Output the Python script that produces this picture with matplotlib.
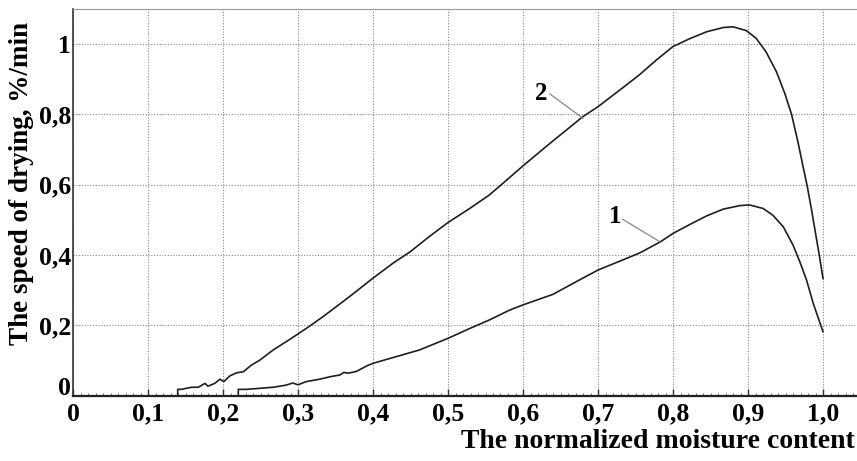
import matplotlib
matplotlib.use("Agg")
import matplotlib.pyplot as plt
from matplotlib.ticker import MultipleLocator
from matplotlib.transforms import ScaledTranslation

# Curve 2 (upper)
x2 = [0.1396, 0.1396, 0.145, 0.151, 0.158, 0.167, 0.176, 0.180, 0.189, 0.196, 0.201,
      0.209, 0.218, 0.227, 0.238, 0.249, 0.267, 0.289, 0.311, 0.333, 0.343, 0.356,
      0.372, 0.40, 0.427, 0.449, 0.475, 0.50, 0.529, 0.555, 0.573, 0.60, 0.636, 0.68,
      0.70, 0.738, 0.756, 0.778, 0.80, 0.823, 0.845, 0.867, 0.88, 0.898, 0.911, 0.924,
      0.938, 0.949, 0.958, 0.967, 0.973, 0.979, 0.985, 0.990, 0.995, 1.0]
y2 = [0.0, 0.018, 0.018, 0.021, 0.024, 0.024, 0.035, 0.027, 0.035, 0.047, 0.040,
      0.056, 0.065, 0.068, 0.087, 0.101, 0.130, 0.160, 0.191, 0.224, 0.240, 0.261,
      0.287, 0.334, 0.377, 0.408, 0.452, 0.492, 0.532, 0.570, 0.603, 0.653, 0.717, 0.793,
      0.821, 0.883, 0.913, 0.954, 0.992, 1.015, 1.034, 1.046, 1.048, 1.037, 1.015, 0.977,
      0.920, 0.859, 0.800, 0.717, 0.655, 0.595, 0.525, 0.462, 0.400, 0.333]

# Curve 1 (lower)
x1 = [0.2204, 0.2204, 0.231, 0.249, 0.267, 0.284, 0.293, 0.30, 0.311, 0.329, 0.343,
      0.356, 0.361, 0.367, 0.378, 0.392, 0.40, 0.431, 0.462, 0.50, 0.529, 0.555, 0.582,
      0.60, 0.64, 0.671, 0.70, 0.738, 0.756, 0.783, 0.80, 0.823, 0.845, 0.867, 0.889,
      0.902, 0.92, 0.933, 0.947, 0.96, 0.969, 0.978, 0.987, 1.0]
y1 = [0.0, 0.018, 0.018, 0.021, 0.024, 0.030, 0.036, 0.031, 0.040, 0.047, 0.054,
      0.059, 0.066, 0.064, 0.069, 0.085, 0.092, 0.111, 0.130, 0.163, 0.191, 0.215, 0.243,
      0.258, 0.288, 0.324, 0.357, 0.390, 0.406, 0.437, 0.461, 0.487, 0.511, 0.530, 0.540,
      0.542, 0.532, 0.513, 0.480, 0.428, 0.381, 0.329, 0.262, 0.182]

xticks = [0, 0.1, 0.2, 0.3, 0.4, 0.5, 0.6, 0.7, 0.8, 0.9, 1.0]
xticklabels = ["0", "0,1", "0,2", "0,3", "0,4", "0,5", "0,6", "0,7", "0,8", "0,9", "1,0"]
yticks = [0, 0.2, 0.4, 0.6, 0.8, 1.0]
yticklabels = ["0", "0,2", "0,4", "0,6", "0,8", "1"]

serif = ["Liberation Serif", "DejaVu Serif"]

fig = plt.figure(figsize=(8.57, 4.61), dpi=100)
ax = fig.add_axes([73/857, 1-395.7/461, (856-73)/857, (395.7-9)/461])

ax.plot(x2, y2, color="#1e1e1e", lw=1.2)
ax.plot(x1, y1, color="#1e1e1e", lw=1.2)

ax.set_xlim(0, (856-73)/750)
ax.set_ylim(0, (395.7-9)/352)

ax.set_xticks(xticks)
ax.set_xticklabels(xticklabels, fontfamily=serif, fontweight="bold", fontsize=18.5)
ax.set_yticks(yticks)
ax.set_yticklabels(yticklabels, fontfamily=serif, fontweight="bold", fontsize=18.5)
ax.xaxis.set_minor_locator(MultipleLocator(0.01))
ax.tick_params(axis="x", which="major", direction="in", length=5, width=1, pad=5, color="#333333")
ax.tick_params(axis="x", which="minor", direction="in", length=2.5, width=0.6, color="#555555")
ax.tick_params(axis="y", which="both", length=0, pad=1.5)

# the y-axis "0" sits slightly raised in the reference
ylab0 = ax.get_yticklabels()[0]
ylab0.set_transform(ylab0.get_transform() + ScaledTranslation(0, 7/72, fig.dpi_scale_trans))

ax.grid(True, which="major", linestyle=(0, (1, 1.5)), color="#888888", lw=0.8)

ax.spines["bottom"].set_linewidth(1.6)
ax.spines["bottom"].set_color("#222222")
ax.spines["left"].set_linewidth(1.2)
ax.spines["left"].set_color("#333333")
ax.spines["top"].set_color("#999999")
ax.spines["top"].set_linewidth(0.8)
ax.spines["right"].set_visible(False)

# Curve labels with leader lines
ax.text(0.625, 0.859, "2", fontfamily=serif, fontweight="bold", fontsize=18,
        ha="center", va="center")
ax.plot([0.636, 0.680], [0.857, 0.788], color="#888888", lw=0.9)
ax.text(0.723, 0.509, "1", fontfamily=serif, fontweight="bold", fontsize=18,
        ha="center", va="center")
ax.plot([0.733, 0.782], [0.501, 0.438], color="#888888", lw=0.9)

fig.text(855/857, 1-441/461, "The normalized moisture content", fontfamily=serif,
         fontweight="bold", fontsize=20, ha="right", va="center")
fig.text(22/857, 1-183/461, "The speed of drying, %/min", fontfamily=serif,
         fontweight="bold", fontsize=19.5, ha="center", va="center", rotation=90)

fig.savefig("out.png", dpi=100)
